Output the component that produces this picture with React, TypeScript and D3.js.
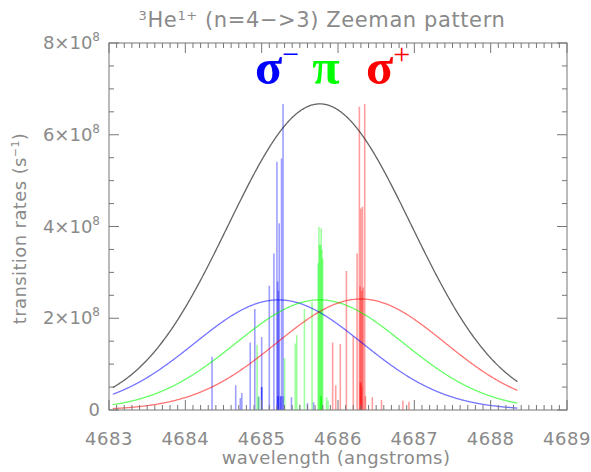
import React from 'react';
import * as d3 from 'd3';

// wavelengths (angstroms) and transition rates (units of 1e8 s^-1)
const sigmaMinusWl = [4684.35, 4684.66, 4684.72, 4684.74, 4684.85, 4684.91, 4684.96, 4685.00, 4685.00, 4685.00, 4685.10, 4685.16, 4685.20, 4685.21, 4685.22, 4685.23, 4685.26, 4685.28, 4685.28, 4685.21, 4685.22, 4685.25, 4685.25, 4685.39, 4685.60, 4685.68];
const sigmaMinusRate = [1.16, 0.54, 0.26, 0.37, 1.47, 2.2, 0.29, 1.59, 0.5, 0.5, 2.71, 3.41, 5.41, 2.8, 2.6, 4.07, 5.48, 6.67, 0.3, 0.3, 0.3, 0.3, 0.3, 0.28, 0.15, 0.17];

const piWl = [4684.94, 4684.96, 4685.30, 4685.44, 4685.46, 4685.56, 4685.66, 4685.74, 4685.75, 4685.76, 4685.77, 4685.78, 4685.79, 4685.80, 4685.77, 4685.78, 4685.78, 4685.85, 4685.87, 4685.50];
const piRate = [1.42, 0.3, 1.13, 1.45, 1.63, 2.2, 2.35, 3.2, 3.99, 3.6, 3.6, 3.96, 3.5, 3.3, 0.3, 0.3, 0.3, 0.28, 0.2, 0.12];

const sigmaPlusWl = [4685.93, 4685.97, 4686.03, 4686.11, 4686.20, 4686.25, 4686.28, 4686.29, 4686.30, 4686.32, 4686.33, 4686.35, 4686.29, 4686.30, 4686.31, 4686.31, 4686.36, 4686.45, 4686.57, 4686.85, 4686.93];
const sigmaPlusRate = [1.47, 0.54, 1.44, 3.03, 1.61, 3.41, 6.61, 2.7, 4.39, 4.43, 2.67, 6.67, 0.6, 0.6, 0.5, 2.6, 0.3, 0.28, 0.22, 0.2, 0.18];

// gaussian envelope fits: [centre, peak, width]
const envMinus = [4685.22, 2.4, 1.1];
const envPi = [4685.76, 2.4, 1.1];
const envPlus = [4686.30, 2.42, 1.1];
const envRange = [4683.05, 4688.35];

const xTicks = [4683, 4684, 4685, 4686, 4687, 4688, 4689];
const yTicks = [0, 2, 4, 6, 8];

const W = 591;
const H = 472;
const margin = { top: 43, right: 24, bottom: 62, left: 109 };
const gray = '#8a8a8a';
const axisColor = '#777';
const font = 'DejaVu Sans, sans-serif';

const gauss = (p: number[], l: number) => p[1] * Math.exp(-((l - p[0]) ** 2) / (2 * p[2] * p[2]));

export default function App() {
  const x = d3.scaleLinear().domain([4683, 4689]).range([margin.left, W - margin.right]);
  const y = d3.scaleLinear().domain([0, 8]).range([H - margin.bottom, margin.top]);
  const x0 = margin.left, x1 = W - margin.right, y0 = H - margin.bottom, y1 = margin.top;

  const samples = d3.range(envRange[0], envRange[1] + 1e-9, 0.01);
  const line = d3.line<[number, number]>().x(d => x(d[0])).y(d => y(d[1]));
  const curve = (f: (l: number) => number) => line(samples.map(l => [l, f(l)] as [number, number])) || '';

  const minorX = d3.range(0, 61).map(i => 4683 + i * 0.1);
  const minorY = d3.range(0, 17).map(i => i * 0.5);

  const sticks = (wl: number[], rate: number[], color: string) =>
    wl.map((l, i) => (
      <line key={color + i} x1={x(l)} x2={x(l)} y1={y(0)} y2={y(rate[i])}
        stroke={color} strokeOpacity={0.38} strokeWidth={1.6} />
    ));

  return (
    <svg width={W} height={H} style={{ position: 'absolute', left: 0, top: 0, background: '#fff' }}>
      {/* title */}
      <text x={322} y={27} textAnchor="middle" fontFamily={font} fontSize={21} fill={gray} letterSpacing={0.6}>
        <tspan fontSize={13} dy={-7}>3</tspan>
        <tspan dy={7}>He</tspan>
        <tspan fontSize={13} dy={-7}>1+</tspan>
        <tspan dy={7}> (n=4−&gt;3) Zeeman pattern</tspan>
      </text>

      {/* spectral lines */}
      {sticks(sigmaMinusWl, sigmaMinusRate, '#0000ff')}
      {sticks(piWl, piRate, '#00ff00')}
      {sticks(sigmaPlusWl, sigmaPlusRate, '#ff0000')}

      {/* envelopes */}
      <path d={curve(l => gauss(envMinus, l))} fill="none" stroke="#0000ff" strokeOpacity={0.55} strokeWidth={1.3} />
      <path d={curve(l => gauss(envPi, l))} fill="none" stroke="#00ff00" strokeOpacity={0.6} strokeWidth={1.3} />
      <path d={curve(l => gauss(envPlus, l))} fill="none" stroke="#ff0000" strokeOpacity={0.55} strokeWidth={1.3} />
      <path d={curve(l => gauss(envMinus, l) + gauss(envPi, l) + gauss(envPlus, l))} fill="none" stroke="#222" strokeOpacity={0.7} strokeWidth={1.3} />

      {/* frame and ticks */}
      <rect x={x0} y={y1} width={x1 - x0} height={y0 - y1} fill="none" stroke={axisColor} strokeWidth={1} />
      {minorX.map((v, i) => {
        const len = i % 10 === 0 ? 10 : 5;
        return (
          <g key={'xt' + i} stroke={axisColor} strokeWidth={1}>
            <line x1={x(v)} x2={x(v)} y1={y0} y2={y0 - len} />
            <line x1={x(v)} x2={x(v)} y1={y1} y2={y1 + len} />
          </g>
        );
      })}
      {minorY.map((v, i) => {
        const len = i % 4 === 0 ? 10 : 5;
        return (
          <g key={'yt' + i} stroke={axisColor} strokeWidth={1}>
            <line x1={x0} x2={x0 + len} y1={y(v)} y2={y(v)} />
            <line x1={x1} x2={x1 - len} y1={y(v)} y2={y(v)} />
          </g>
        );
      })}

      {/* tick labels */}
      {xTicks.map(t => (
        <text key={'xl' + t} x={x(t)} y={y0 + 35} textAnchor="middle" fontFamily={font} fontSize={18} fill={gray} letterSpacing={0.5}>{t}</text>
      ))}
      {yTicks.map(t => (
        <text key={'yl' + t} x={x0 - 9} y={y(t) + 6} textAnchor="end" fontFamily={font} fontSize={18} fill={gray}>
          {t === 0 ? '0' : (
            <>
              <tspan>{t}×10</tspan>
              <tspan fontSize={12} dy={-8}>8</tspan>
            </>
          )}
        </text>
      ))}

      {/* axis titles */}
      <text x={336} y={H - 8} textAnchor="middle" fontFamily={font} fontSize={18} fill={gray} letterSpacing={0.4}>wavelength (angstroms)</text>
      <text transform={`translate(26, ${(y0 + y1) / 2 + 2}) rotate(-90)`} textAnchor="middle" fontFamily={font} fontSize={18} fill={gray} letterSpacing={0.4}>
        <tspan>transition rates (s</tspan>
        <tspan fontSize={11} dy={-7}>−1</tspan>
        <tspan dy={7}>)</tspan>
      </text>

      {/* polarization labels */}
      <text x={255} y={84} fontFamily="Liberation Serif, serif" fontWeight="bold" fontSize={50} fill="#0000ff">σ<tspan fontSize={30} fontWeight="normal" dy={-20}>−</tspan></text>
      <text x={326} y={84} textAnchor="middle" fontFamily="Liberation Serif, serif" fontWeight="bold" fontSize={50} fill="#00ff00">π</text>
      <text x={366} y={84} fontFamily="Liberation Serif, serif" fontWeight="bold" fontSize={50} fill="#ff0000">σ<tspan fontSize={30} fontWeight="normal" dy={-20}>+</tspan></text>
    </svg>
  );
}
